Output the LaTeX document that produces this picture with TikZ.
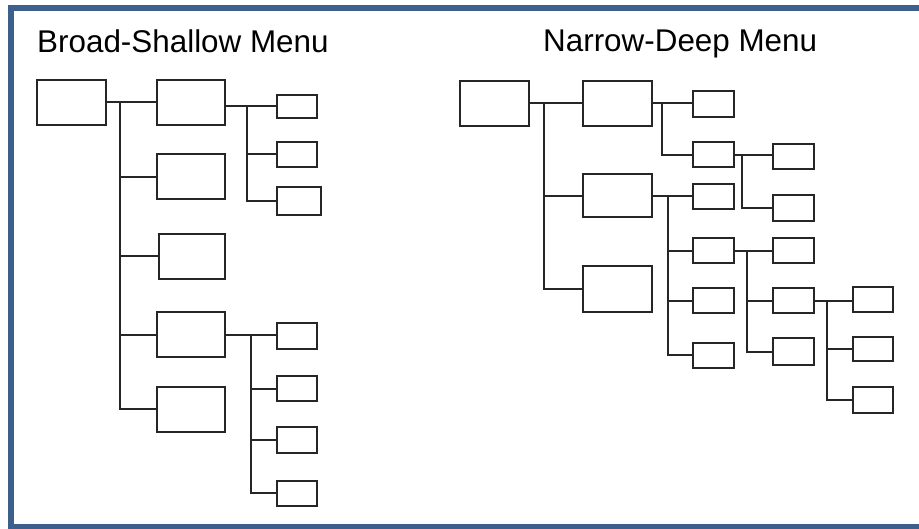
\documentclass[tikz,border=0pt]{standalone}
\usepackage{fontspec}
\setmainfont{Liberation Sans}
\definecolor{framec}{HTML}{3D5F8C}
\definecolor{linec}{HTML}{262626}
\begin{document}
\begin{tikzpicture}[x=1pt,y=-1pt,
  menubox/.style={draw=linec,line width=2pt,rectangle,inner sep=0pt,minimum width=#1},
  bigbox/.style={menubox=69pt,minimum height=45pt},
  smallbox/.style={menubox=40.5pt,minimum height=25pt},
  conn/.style={draw=linec,line width=2pt},
  titletext/.style={anchor=base west,inner sep=0pt,font=\fontsize{31.4}{36}\selectfont}]
\useasboundingbox (0,0) rectangle (919,529);
\clip (0,0) rectangle (919,529);
\fill[white] (0,0) rectangle (919,529);
\draw[framec,line width=6pt] (11,8) rectangle (935,527);

\node[titletext] (tl) at (37,53) {Broad-Shallow Menu};
\node[titletext] (tr) at (543,52) {Narrow-Deep Menu};

% ---------- Broad-Shallow ----------
\node[bigbox] (L0) at (71.5,102.5) {};
\node[bigbox,minimum width=68pt] (L1a) at (191,102.5) {};
\node[bigbox,minimum width=68pt] (L1b) at (191,176.7) {};
\node[bigbox,minimum width=66pt] (L1c) at (192,256.5) {};
\node[bigbox,minimum width=68pt] (L1d) at (191,334.7) {};
\node[bigbox,minimum width=68pt] (L1e) at (191,409.2) {};
\node[smallbox,minimum height=23pt] (S1) at (297,106.5) {};
\node[smallbox,minimum height=24.5pt] (S2) at (297,154.5) {};
\node[smallbox,minimum width=44pt,minimum height=28pt] (S3) at (299,201) {};
\node[smallbox,minimum height=26.5pt] (T1) at (297,336) {};
\node[smallbox] (T2) at (297,389) {};
\node[smallbox,minimum height=26.5pt] (T3) at (297,440) {};
\node[smallbox] (T4) at (297,493.2) {};

\coordinate (jL0) at (120,0);
\coordinate (jL1a) at (247.3,0);
\coordinate (jL1d) at (251,0);

\draw[conn] (L0.east) -- (L1a.west);
\draw[conn] (jL0 |- L1a.west) |- (L1e.west);
\foreach \c in {L1b,L1c,L1d} \draw[conn] (jL0 |- \c.west) -- (\c.west);

\draw[conn] (L1a.east |- S1.west) -- (S1.west);
\draw[conn] (jL1a |- S1.west) |- (S3.west);
\draw[conn] (jL1a |- S2.west) -- (S2.west);

\draw[conn] (L1d.east) -- (L1d.east -| T1.west);
\draw[conn] (jL1d |- L1d.east) |- (T4.west);
\foreach \c in {T2,T3} \draw[conn] (jL1d |- \c.west) -- (\c.west);

% ---------- Narrow-Deep ----------
\node[bigbox,minimum width=68.7pt] (R0) at (494.3,104) {};
\node[bigbox] (R1a) at (617.8,103.2) {};
\node[bigbox,minimum height=43pt] (R1b) at (617.8,195.8) {};
\node[bigbox,minimum height=45.7pt] (R1c) at (617.8,288.8) {};
\node[smallbox,minimum height=26.6pt] (R2a) at (713.7,104) {};
\node[smallbox] (R2b) at (713.7,155) {};
\node[smallbox] (R2c) at (713.7,196.8) {};
\node[smallbox] (R2d) at (713.7,250.8) {};
\node[smallbox] (R2e) at (713.7,300.8) {};
\node[smallbox] (R2f) at (713.7,355.2) {};
\node[smallbox] (R3a) at (793.7,156.8) {};
\node[smallbox,minimum height=26pt] (R3b) at (793.7,208) {};
\node[smallbox] (R3c) at (793.7,250.8) {};
\node[smallbox] (R3d) at (793.7,300.8) {};
\node[smallbox,minimum height=27pt] (R3e) at (793.7,352) {};
\node[smallbox] (R4a) at (873,299.2) {};
\node[smallbox,minimum height=24.3pt] (R4b) at (873,348.8) {};
\node[smallbox,minimum height=26.6pt] (R4c) at (873,400) {};

\coordinate (jR0) at (544.3,0);
\coordinate (jR1a) at (661.7,0);
\coordinate (jR2b) at (741.7,0);
\coordinate (jR1b) at (667.7,0);
\coordinate (jR2d) at (747.3,0);
\coordinate (jR3d) at (827.3,0);

\draw[conn] (R0.east |- R1a.west) -- (R1a.west);
\draw[conn] (jR0 |- R1a.west) |- (R1c.west);
\draw[conn] (jR0 |- R1b.west) -- (R1b.west);

\draw[conn] (R1a.east) -- (R1a.east -| R2a.west);
\draw[conn] (jR1a |- R1a.east) |- (R2b.west);

\draw[conn] (R2b.east) -- (R2b.east -| R3a.west);
\draw[conn] (jR2b |- R2b.east) |- (R3b.west);

\draw[conn] (R1b.east) -- (R1b.east -| R2c.west);
\draw[conn] (jR1b |- R1b.east) |- (R2f.west);
\foreach \c in {R2d,R2e} \draw[conn] (jR1b |- \c.west) -- (\c.west);

\draw[conn] (R2d.east) -- (R3c.west);
\draw[conn] (jR2d |- R3c.west) |- (R3e.west);
\draw[conn] (jR2d |- R3d.west) -- (R3d.west);

\draw[conn] (R3d.east) -- (R3d.east -| R4a.west);
\draw[conn] (jR3d |- R3d.east) |- (R4c.west);
\draw[conn] (jR3d |- R4b.west) -- (R4b.west);
\end{tikzpicture}
\end{document}
